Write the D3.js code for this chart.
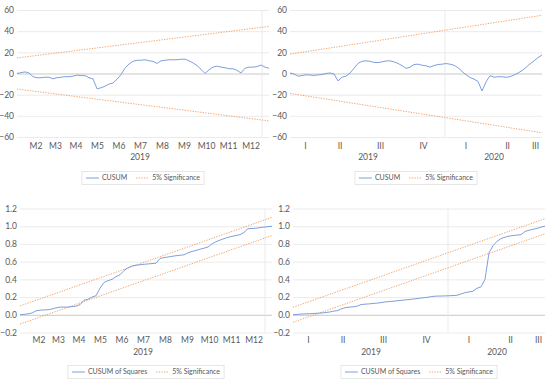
<!DOCTYPE html>
<html><head><meta charset="utf-8">
<script src="https://cdn.jsdelivr.net/npm/d3@7"></script>
<style>
body{margin:0;background:#fff}
svg{display:block}
text{font-family:Lato,"Open Sans",sans-serif}
</style>
</head><body>
<svg id="c" width="550" height="385"></svg>
<script>
// ---------- data ----------
const monthLabels = ["", "M2", "M3", "M4", "M5", "M6", "M7", "M8", "M9", "M10", "M11", "M12", ""];
const monthObs    = [9, 19, 20, 21, 22, 21, 22, 22, 22, 22, 22, 23, 7];
const monthYearLabels = ["2019", ""];
const monthYearGroups = [12, 1];

const quarterLabels = ["I", "II", "III", "IV", "I", "II", "III"];
const quarterObs    = [30, 39, 42, 44, 41, 42, 14];
const quarterYearLabels = ["2019", "2020"];
const quarterYearGroups = [4, 3];

const sampleStep = 4; // observations between stored values

const cusumMonthly = [0, 0.8, 1.5, 0.5, -3, -4, -4, -3.5, -3.5, -5, -4, -3.5, -3, -3, -2.5, -1.5, -2, -2, -4, -5,
  -14.5, -13.5, -12, -10, -9, -5.5, -1, 5, 9, 11.5, 12.5, 12.5, 13, 12, 11.5, 9.5, 12, 12.5, 13, 13,
  13, 13.5, 13.5, 12, 10, 7.5, 4, 0, 3.5, 6, 7, 6, 5.5, 4.5, 4.5, 3, 0.5, 5, 6, 6, 6.5, 8, 6, 5];

const cusumQuarterly = [0.5, -0.5, -2.5, -2, -1.2, -1.5, -1.8, -1.3, -1, 0, 0.5, -0.5, -7, -3.5, -2.5, 0.3,
  5, 9.5, 11.5, 12, 11.5, 10.5, 10.3, 11, 11.8, 12, 11, 9.5, 7.5, 4.8, 6, 8.5, 8.8, 7.8, 7.3, 6, 7.5, 8.5,
  8.8, 9.4, 8.8, 7.8, 5.5, 2, -1.2, -3.8, -5.3, -7.5, -16.5, -8, -2, -3.5, -3, -3.1, -3.6, -3, -1.5, 0.5,
  2.7, 5.8, 9, 12, 15, 17.5];

const cusumSqMonthly = [0, 0.005, 0.01, 0.02, 0.045, 0.052, 0.055, 0.057, 0.065, 0.078, 0.087, 0.087, 0.087,
  0.092, 0.097, 0.114, 0.165, 0.175, 0.2, 0.215, 0.3, 0.365, 0.385, 0.4, 0.43, 0.452, 0.5, 0.53, 0.551, 0.56,
  0.565, 0.57, 0.574, 0.578, 0.582, 0.636, 0.645, 0.652, 0.66, 0.667, 0.672, 0.677, 0.7, 0.715, 0.727, 0.74,
  0.752, 0.765, 0.8, 0.825, 0.843, 0.86, 0.875, 0.885, 0.895, 0.905, 0.93, 0.972, 0.974, 0.977, 0.985, 0.99,
  0.995, 1.0];

const cusumSqQuarterly = [0, 0.004, 0.008, 0.01, 0.012, 0.015, 0.017, 0.02, 0.025, 0.03, 0.04, 0.046, 0.065,
  0.08, 0.086, 0.09, 0.097, 0.115, 0.12, 0.123, 0.128, 0.132, 0.137, 0.145, 0.149, 0.153, 0.158, 0.163, 0.168,
  0.172, 0.177, 0.183, 0.189, 0.194, 0.2, 0.208, 0.211, 0.212, 0.213, 0.215, 0.217, 0.22, 0.235, 0.25, 0.258,
  0.266, 0.3, 0.315, 0.4, 0.7, 0.78, 0.83, 0.86, 0.876, 0.888, 0.895, 0.9, 0.905, 0.94, 0.955, 0.965, 0.975,
  0.99, 1.0];

// significance bounds: [value at start, value at end]
const sigUpperMonthly   = [14.7, 44.5];
const sigLowerMonthly   = [-14.7, -44.8];
const sigUpperQuarterly = [18.3, 55];
const sigLowerQuarterly = [-18.8, -56];
const sqUpperMonthly    = [0.1, 1.1];
const sqLowerMonthly    = [-0.105, 0.895];
const sqUpperQuarterly  = [0.085, 1.085];
const sqLowerQuarterly  = [-0.085, 0.915];

const cusumTicks = [-60, -40, -20, 0, 20, 40, 60];
const sqTicks = [-0.2, 0, 0.2, 0.4, 0.6, 0.8, 1.0, 1.2];

// ---------- drawing ----------
const svg = d3.select("#c");
const BLUE = "#5E88D4", ORANGE = "#ED7D31", TXT = "#595959";

function drawPanel(o) {
  const g = svg.append("g");
  const total = d3.sum(o.groupObs);
  const x = d3.scaleLinear().domain([0, total]).range([o.x0, o.x1]);
  const y = d3.scaleLinear().domain([o.yTicks[0], o.yTicks[o.yTicks.length - 1]]).range([o.yBottom, o.yTop]);

  const ya = g.append("g").attr("transform", `translate(${o.x0},0)`)
    .call(d3.axisLeft(y).tickValues(o.yTicks).tickSize(-(o.x1 - o.x0)).tickPadding(3).tickFormat(o.fmt));
  ya.select(".domain").remove();
  ya.selectAll(".tick line").attr("stroke", d => d === 0 ? "#C9C9C9" : "#E6E6E6").attr("stroke-width", d => d === 0 ? 1 : 0.8);
  ya.selectAll(".tick text").attr("fill", TXT).style("font-size", "8.5px").style("font-family", "Lato, sans-serif");

  const starts = [];
  let acc = 0;
  o.groupObs.forEach(n => { starts.push(acc); acc += n; });
  const centers = o.groupObs.map((n, i) => starts[i] + n / 2);

  const yStarts = [], yEnds = [];
  let gi = 0;
  o.yearGroups.forEach(k => {
    yStarts.push(starts[gi]);
    gi += k;
    yEnds.push(gi < starts.length ? starts[gi] : total);
  });
  const yearCenters = yStarts.map((s, i) => (s + yEnds[i]) / 2);

  g.append("g").selectAll("line").data(yEnds.filter(e => e < total)).join("line")
    .attr("x1", d => x(d)).attr("x2", d => x(d))
    .attr("y1", o.yTop).attr("y2", o.yBottom)
    .attr("stroke", "#E6E6E6").attr("stroke-width", 0.8);

  const ca = g.append("g").attr("transform", `translate(0,${o.catY})`)
    .call(d3.axisBottom(x).tickValues(centers).tickSize(0).tickPadding(0).tickFormat((d, i) => o.groupLabels[i]));
  ca.select(".domain").remove();
  ca.selectAll(".tick text").attr("fill", TXT).attr("dy", "0.32em").style("font-size", "8.5px").style("font-family", "Lato, sans-serif");

  const ya2 = g.append("g").attr("transform", `translate(0,${o.yearY})`)
    .call(d3.axisBottom(x).tickValues(yearCenters).tickSize(0).tickPadding(0).tickFormat((d, i) => o.yearLabels[i]));
  ya2.select(".domain").remove();
  ya2.selectAll(".tick text").attr("fill", TXT).attr("dy", "0.32em").style("font-size", "8.5px").style("font-family", "Lato, sans-serif");

  const seg = d3.line().x(d => x(d[0])).y(d => y(d[1]));
  [o.upper, o.lower].forEach(b => {
    g.append("path").attr("d", seg([[0, b[0]], [total, b[1]]]))
      .attr("fill", "none").attr("stroke", ORANGE).attr("stroke-width", 1)
      .attr("stroke-dasharray", "1.3,1.3").attr("opacity", 0.7);
  });

  const line = d3.line().x((d, i) => x(i * sampleStep)).y(d => y(d));
  g.append("path").datum(o.values).attr("d", line)
    .attr("fill", "none").attr("stroke", BLUE).attr("stroke-width", 0.8).attr("stroke-linejoin", "round");

  const lg = g.append("g");
  const fs = "7px";
  const items = [{label: o.seriesName, dash: null, color: BLUE}, {label: "5% Significance", dash: "1.3,1.3", color: ORANGE}];
  const sampleW = 13, gapT = 3, gapI = 9, pad = 4;
  let cx = pad;
  const parts = [];
  items.forEach((it, i) => {
    const t = lg.append("text").text(it.label).attr("fill", TXT).style("font-size", fs).attr("dy", "0.33em");
    const w = t.node().getComputedTextLength();
    parts.push({it, t, start: cx, w});
    cx += sampleW + gapT + w + (i < items.length - 1 ? gapI : 0);
  });
  const totalW = cx + pad;
  const lx = (o.x0 + o.x1) / 2 - totalW / 2;
  lg.attr("transform", `translate(${lx},${o.legendY})`);
  lg.insert("rect", ":first-child").attr("x", 0).attr("y", -6.5).attr("width", totalW).attr("height", 13)
    .attr("fill", "#fff").attr("stroke", "#E0E0E0").attr("stroke-width", 0.8);
  parts.forEach(p => {
    lg.append("line").attr("x1", p.start).attr("x2", p.start + sampleW).attr("y1", 0).attr("y2", 0)
      .attr("stroke", p.it.color).attr("stroke-width", p.it.dash ? 1 : 0.8)
      .attr("stroke-dasharray", p.it.dash).attr("opacity", p.it.dash ? 0.7 : 1);
    p.t.attr("x", p.start + sampleW + gapT);
  });
}

const fmt0 = d3.format("d");
const fmt1 = d3.format(".1f");

drawPanel({x0: 17, x1: 269, yTop: 10, yBottom: 137, catY: 146, yearY: 157, legendY: 178,
  yTicks: cusumTicks, fmt: fmt0, groupObs: monthObs, groupLabels: monthLabels,
  yearGroups: monthYearGroups, yearLabels: monthYearLabels,
  values: cusumMonthly, upper: sigUpperMonthly, lower: sigLowerMonthly, seriesName: "CUSUM"});

drawPanel({x0: 290, x1: 542, yTop: 10, yBottom: 137, catY: 146, yearY: 157, legendY: 178,
  yTicks: cusumTicks, fmt: fmt0, groupObs: quarterObs, groupLabels: quarterLabels,
  yearGroups: quarterYearGroups, yearLabels: quarterYearLabels,
  values: cusumQuarterly, upper: sigUpperQuarterly, lower: sigLowerQuarterly, seriesName: "CUSUM"});

drawPanel({x0: 20, x1: 272, yTop: 208.5, yBottom: 332.5, catY: 340, yearY: 352, legendY: 372,
  yTicks: sqTicks, fmt: fmt1, groupObs: monthObs, groupLabels: monthLabels,
  yearGroups: monthYearGroups, yearLabels: monthYearLabels,
  values: cusumSqMonthly, upper: sqUpperMonthly, lower: sqLowerMonthly, seriesName: "CUSUM of Squares"});

drawPanel({x0: 293, x1: 545, yTop: 208.5, yBottom: 332.5, catY: 340, yearY: 352, legendY: 372,
  yTicks: sqTicks, fmt: fmt1, groupObs: quarterObs, groupLabels: quarterLabels,
  yearGroups: quarterYearGroups, yearLabels: quarterYearLabels,
  values: cusumSqQuarterly, upper: sqUpperQuarterly, lower: sqLowerQuarterly, seriesName: "CUSUM of Squares"});
</script>
</body></html>
